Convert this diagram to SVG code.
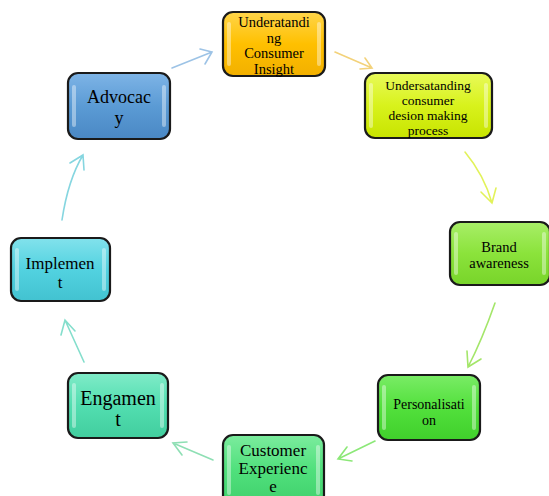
<svg xmlns="http://www.w3.org/2000/svg" width="549" height="496" viewBox="0 0 549 496">
<style>
.box{stroke:#1a1a1a;stroke-width:2.2}
.hl{fill:#ffffff;opacity:0.4}
text{font-family:"Liberation Serif","Times New Roman","DejaVu Serif",serif;fill:#000;text-anchor:middle}
.c{fill:none;stroke-width:1.6;stroke-linecap:round}
</style>
<defs>
<linearGradient id="g1" x1="0" y1="0" x2="0" y2="1"><stop offset="0" stop-color="#FFD54A"/><stop offset="0.5" stop-color="#FFC000"/><stop offset="1" stop-color="#F2B000"/></linearGradient>
<linearGradient id="g2" x1="0" y1="0" x2="0" y2="1"><stop offset="0" stop-color="#E8FA5A"/><stop offset="0.5" stop-color="#D8F21C"/><stop offset="1" stop-color="#C8E400"/></linearGradient>
<linearGradient id="g3" x1="0" y1="0" x2="0" y2="1"><stop offset="0" stop-color="#7EB4E6"/><stop offset="0.5" stop-color="#5B9BD5"/><stop offset="1" stop-color="#4A88C4"/></linearGradient>
<linearGradient id="g4" x1="0" y1="0" x2="0" y2="1"><stop offset="0" stop-color="#A8EE68"/><stop offset="0.5" stop-color="#8BE33B"/><stop offset="1" stop-color="#78D42A"/></linearGradient>
<linearGradient id="g5" x1="0" y1="0" x2="0" y2="1"><stop offset="0" stop-color="#7AEC66"/><stop offset="0.5" stop-color="#52E03C"/><stop offset="1" stop-color="#40D02C"/></linearGradient>
<linearGradient id="g6" x1="0" y1="0" x2="0" y2="1"><stop offset="0" stop-color="#7CEC9E"/><stop offset="0.5" stop-color="#50E07C"/><stop offset="1" stop-color="#40D06C"/></linearGradient>
<linearGradient id="g7" x1="0" y1="0" x2="0" y2="1"><stop offset="0" stop-color="#80EBC8"/><stop offset="0.5" stop-color="#52DEB0"/><stop offset="1" stop-color="#42CE9E"/></linearGradient>
<linearGradient id="g8" x1="0" y1="0" x2="0" y2="1"><stop offset="0" stop-color="#82E2EC"/><stop offset="0.5" stop-color="#52D2E0"/><stop offset="1" stop-color="#42C2D0"/></linearGradient>
</defs>

<g id="connectors">
<path class="c" stroke="#9DC3E6" d="M172,68 L212,52 M200,49 L212,52 L205,64"/>
<path class="c" stroke="#F3D27A" d="M335,52 L372,68 M360,69 L372,68 L365,58"/>
<path class="c" stroke="#E2F25A" d="M465,152 Q484,175 492,203 M481,192 L492,203 L496,188"/>
<path class="c" stroke="#A4E66A" d="M495,303 Q482,340 468,367 M467,351 L468,367 L481,359"/>
<path class="c" stroke="#8CE878" d="M375,441 L338,459 M347,447 L338,459 L352,461"/>
<path class="c" stroke="#8EDFB4" d="M213,460 L173,443 M187,442 L173,443 L182,455"/>
<path class="c" stroke="#84DECC" d="M84,362 L65,320 M61,335 L65,320 L75,331"/>
<path class="c" stroke="#86D6E0" d="M62,220 Q68,180 83,155 M70,163 L83,155 L84,170"/>
</g>

<g id="n1">
<rect class="box" x="223" y="12" width="102" height="64" rx="10" fill="url(#g1)"/>
<rect class="hl" x="227" y="22" width="4" height="44" rx="2"/>
<rect class="hl" x="317" y="22" width="4" height="44" rx="2"/>
<text font-size="14.5" font-family="Liberation Serif, Times New Roman, serif"><tspan x="274" y="27">Underatandi</tspan><tspan x="274" y="43">ng</tspan><tspan x="274" y="58">Consumer</tspan><tspan x="274" y="74">Insight</tspan></text>
</g>

<g id="n2">
<rect class="box" x="365" y="73" width="127" height="65" rx="10" fill="url(#g2)"/>
<rect class="hl" x="369" y="83" width="4" height="45" rx="2"/>
<rect class="hl" x="484" y="83" width="4" height="45" rx="2"/>
<text font-size="13.5" font-family="Liberation Serif, Times New Roman, serif"><tspan x="428" y="90">Undersatanding</tspan><tspan x="428" y="105">consumer</tspan><tspan x="428" y="120">desion making</tspan><tspan x="428" y="135">process</tspan></text>
</g>

<g id="n3">
<rect class="box" x="68" y="73" width="102" height="66" rx="10" fill="url(#g3)"/>
<rect class="hl" x="72" y="85" width="4" height="42" rx="2"/>
<rect class="hl" x="162" y="85" width="4" height="42" rx="2"/>
<text font-size="18" font-family="Liberation Serif, Times New Roman, serif"><tspan x="119" y="103">Advocac</tspan><tspan x="119" y="124">y</tspan></text>
</g>

<g id="n4">
<rect class="box" x="450" y="222" width="100" height="63" rx="10" fill="url(#g4)"/>
<rect class="hl" x="454" y="232" width="4" height="43" rx="2"/>
<rect class="hl" x="542" y="232" width="4" height="43" rx="2"/>
<text font-size="14.5" font-family="Liberation Serif, Times New Roman, serif"><tspan x="499" y="252">Brand</tspan><tspan x="499" y="268">awareness</tspan></text>
</g>

<g id="n5">
<rect class="box" x="378" y="375" width="102" height="65" rx="10" fill="url(#g5)"/>
<rect class="hl" x="382" y="385" width="4" height="45" rx="2"/>
<rect class="hl" x="472" y="385" width="4" height="45" rx="2"/>
<text font-size="14" font-family="Liberation Serif, Times New Roman, serif"><tspan x="429" y="409">Personalisati</tspan><tspan x="429" y="425">on</tspan></text>
</g>

<g id="n6">
<rect class="box" x="223" y="435" width="101" height="70" rx="10" fill="url(#g6)"/>
<rect class="hl" x="227" y="445" width="4" height="50" rx="2"/>
<rect class="hl" x="316" y="445" width="4" height="50" rx="2"/>
<text font-size="17" font-family="Liberation Serif, Times New Roman, serif"><tspan x="273" y="456">Customer</tspan><tspan x="273" y="474">Experienc</tspan><tspan x="273" y="492">e</tspan></text>
</g>

<g id="n7">
<rect class="box" x="68" y="373" width="100" height="65" rx="10" fill="url(#g7)"/>
<rect class="hl" x="72" y="383" width="4" height="45" rx="2"/>
<rect class="hl" x="160" y="383" width="4" height="45" rx="2"/>
<text font-size="20" font-family="Liberation Serif, Times New Roman, serif"><tspan x="118" y="405">Engamen</tspan><tspan x="118" y="426">t</tspan></text>
</g>

<g id="n8">
<rect class="box" x="11" y="238" width="99" height="63" rx="10" fill="url(#g8)"/>
<rect class="hl" x="15" y="248" width="4" height="43" rx="2"/>
<rect class="hl" x="102" y="248" width="4" height="43" rx="2"/>
<text font-size="17" font-family="Liberation Serif, Times New Roman, serif"><tspan x="60" y="269">Implemen</tspan><tspan x="60" y="288">t</tspan></text>
</g>
</svg>
